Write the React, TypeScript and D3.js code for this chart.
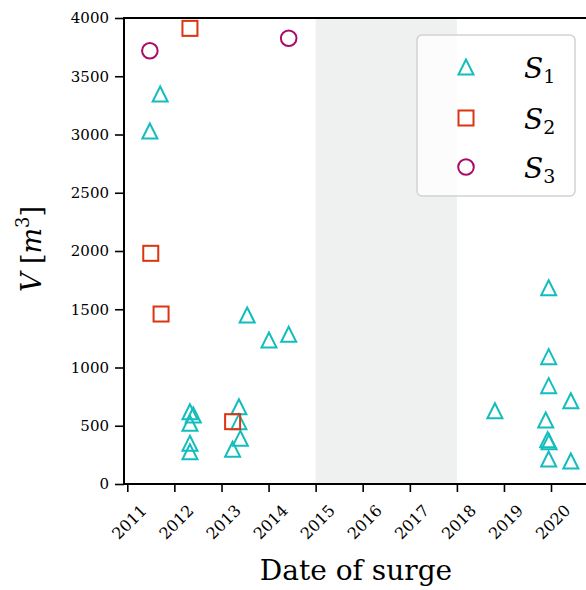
import React, { useEffect, useRef } from "react";
import * as d3 from "d3";

// tick labels
const years = [2011, 2012, 2013, 2014, 2015, 2016, 2017, 2018, 2019, 2020];
const volumeTicks = [0, 500, 1000, 1500, 2000, 2500, 3000, 3500, 4000];

// S1 surges (triangles)
const s1Dates = [
  "2011-06-25", "2011-09-13", "2012-05-01", "2012-05-27", "2012-05-01", "2012-05-01",
  "2012-05-01", "2013-05-16", "2013-05-16", "2013-05-27", "2013-03-28", "2013-07-19",
  "2014-01-04", "2014-06-06", "2018-10-23", "2019-12-14", "2019-12-14", "2019-12-14",
  "2020-06-03", "2019-11-21", "2019-12-06", "2019-12-17", "2019-12-14", "2020-06-03",
];
const s1Volumes = [
  3030, 3348, 620, 592, 521, 349,
  277, 663, 535, 392, 298, 1451,
  1236, 1285, 629, 1685, 1093, 844,
  715, 549, 380, 362, 215, 197,
];

// S2 surges (squares)
const s2Dates = ["2012-05-01", "2011-07-02", "2011-09-20", "2013-03-28"];
const s2Volumes = [3911, 1980, 1459, 535];

// S3 surges (circles)
const s3Dates = ["2011-06-25", "2014-06-06"];
const s3Volumes = [3719, 3826];

// data gap
const gapStart = "2015-01-01";
const gapEnd = "2018-01-01";

const serif = "'DejaVu Serif', serif";
const cyan = "#14bdbd";
const red = "#dd3311";
const purple = "#aa0a68";

const triPath = "M0,-7.5L-7.5,7.5L7.5,7.5Z";

export default function App() {
  const svgRef = useRef<SVGSVGElement>(null);

  useEffect(() => {
    const svg = d3.select(svgRef.current);
    svg.selectAll("*").remove();
    const parse = d3.timeParse("%Y-%m-%d");

    const left = 124, top = 18, bottom = 484, right = 600;

    const x = d3
      .scaleTime()
      .domain([new Date(2011, 0, 1), new Date(2020, 0, 1)])
      .range([127.3, 551]);
    const y = d3.scaleLinear().domain([0, 4000]).range([bottom, top]);

    // shaded gap
    svg.append("rect")
      .attr("x", x(parse(gapStart)!))
      .attr("y", top)
      .attr("width", x(parse(gapEnd)!) - x(parse(gapStart)!))
      .attr("height", bottom - top)
      .attr("fill", "#eff1f0");

    // y axis
    const yAxis = d3.axisLeft(y).tickValues(volumeTicks).tickFormat(d3.format("d")).tickSize(9).tickPadding(6);
    const gy = svg.append("g").attr("transform", `translate(${left},0)`).call(yAxis);
    gy.select(".domain").remove();
    gy.selectAll("line").attr("stroke", "#000").attr("stroke-width", 1.6);
    gy.selectAll("text")
      .attr("font-family", serif)
      .attr("font-size", 15)
      .attr("fill", "#000");

    // x axis
    const xAxis = d3
      .axisBottom(x)
      .tickValues(years.map((yr) => new Date(yr, 0, 1)))
      .tickFormat((d) => d3.timeFormat("%Y")(d as Date))
      .tickSize(8);
    const gx = svg.append("g").attr("transform", `translate(0,${bottom})`).call(xAxis);
    gx.select(".domain").remove();
    gx.selectAll("line").attr("stroke", "#000").attr("stroke-width", 1.6);
    gx.selectAll("text")
      .attr("font-family", serif)
      .attr("font-size", 16)
      .attr("fill", "#000")
      .attr("y", 0)
      .attr("dy", "0.35em")
      .attr("text-anchor", "middle")
      .attr("transform", "translate(1.5,38) rotate(-45)");

    // spines
    const spines = svg.append("g").attr("stroke", "#000").attr("stroke-width", 2);
    spines.append("line").attr("x1", left).attr("x2", left).attr("y1", top).attr("y2", bottom + 1);
    spines.append("line").attr("x1", left - 1).attr("x2", right).attr("y1", bottom).attr("y2", bottom);
    spines.append("line").attr("x1", left - 1).attr("x2", right).attr("y1", top).attr("y2", top);

    // points
    const pts = svg.append("g").attr("fill", "none").attr("stroke-width", 2);
    pts.selectAll(".s1")
      .data(s1Dates.map((d, i) => ({ d: parse(d)!, v: s1Volumes[i] })))
      .join("path")
      .attr("d", triPath)
      .attr("stroke", cyan)
      .attr("transform", (p) => `translate(${x(p.d)},${y(p.v)})`);
    pts.selectAll(".s2")
      .data(s2Dates.map((d, i) => ({ d: parse(d)!, v: s2Volumes[i] })))
      .join("rect")
      .attr("x", (p) => x(p.d) - 7.5)
      .attr("y", (p) => y(p.v) - 7.5)
      .attr("width", 15)
      .attr("height", 15)
      .attr("stroke", red);
    pts.selectAll(".s3")
      .data(s3Dates.map((d, i) => ({ d: parse(d)!, v: s3Volumes[i] })))
      .join("circle")
      .attr("cx", (p) => x(p.d))
      .attr("cy", (p) => y(p.v))
      .attr("r", 7.8)
      .attr("stroke", purple);

    // legend
    const lg = svg.append("g");
    lg.append("rect")
      .attr("x", 417).attr("y", 35).attr("width", 158).attr("height", 161)
      .attr("rx", 5)
      .attr("fill", "#fff").attr("fill-opacity", 0.8)
      .attr("stroke", "#d2d2d2").attr("stroke-width", 1.5);
    const items = [
      { n: "1", c: cyan, y: 67 },
      { n: "2", c: red, y: 118 },
      { n: "3", c: purple, y: 167 },
    ];
    items.forEach((it, i) => {
      const g = lg.append("g").attr("transform", `translate(466,${it.y})`)
        .attr("fill", "none").attr("stroke", it.c).attr("stroke-width", 2);
      if (i === 0) g.append("path").attr("d", triPath);
      if (i === 1) g.append("rect").attr("x", -7.5).attr("y", -7.5).attr("width", 15).attr("height", 15);
      if (i === 2) g.append("circle").attr("r", 7.8);
      const t = lg.append("text")
        .attr("x", 524).attr("y", it.y + 11)
        .attr("font-family", serif).attr("font-size", 28).attr("fill", "#000");
      t.append("tspan").attr("font-style", "italic").text("S");
      t.append("tspan").attr("font-size", 19).attr("dy", 5).text(it.n);
    });

    // axis labels
    svg.append("text")
      .attr("x", 356).attr("y", 580)
      .attr("text-anchor", "middle")
      .attr("font-family", serif).attr("font-size", 28).attr("fill", "#000")
      .text("Date of surge");

    const yl = svg.append("text")
      .attr("transform", "translate(41,249) rotate(-90)")
      .attr("text-anchor", "middle")
      .attr("font-family", serif).attr("font-size", 27).attr("fill", "#000");
    yl.append("tspan").attr("font-style", "italic").text("V");
    yl.append("tspan").text(" [");
    yl.append("tspan").attr("font-style", "italic").text("m");
    yl.append("tspan").attr("font-size", 18).attr("dy", -12).text("3");
    yl.append("tspan").attr("dy", 12).text("]");
  }, []);

  return (
    <svg
      ref={svgRef}
      width={586}
      height={590}
      style={{ position: "absolute", left: 0, top: 0, background: "#fff" }}
    />
  );
}
